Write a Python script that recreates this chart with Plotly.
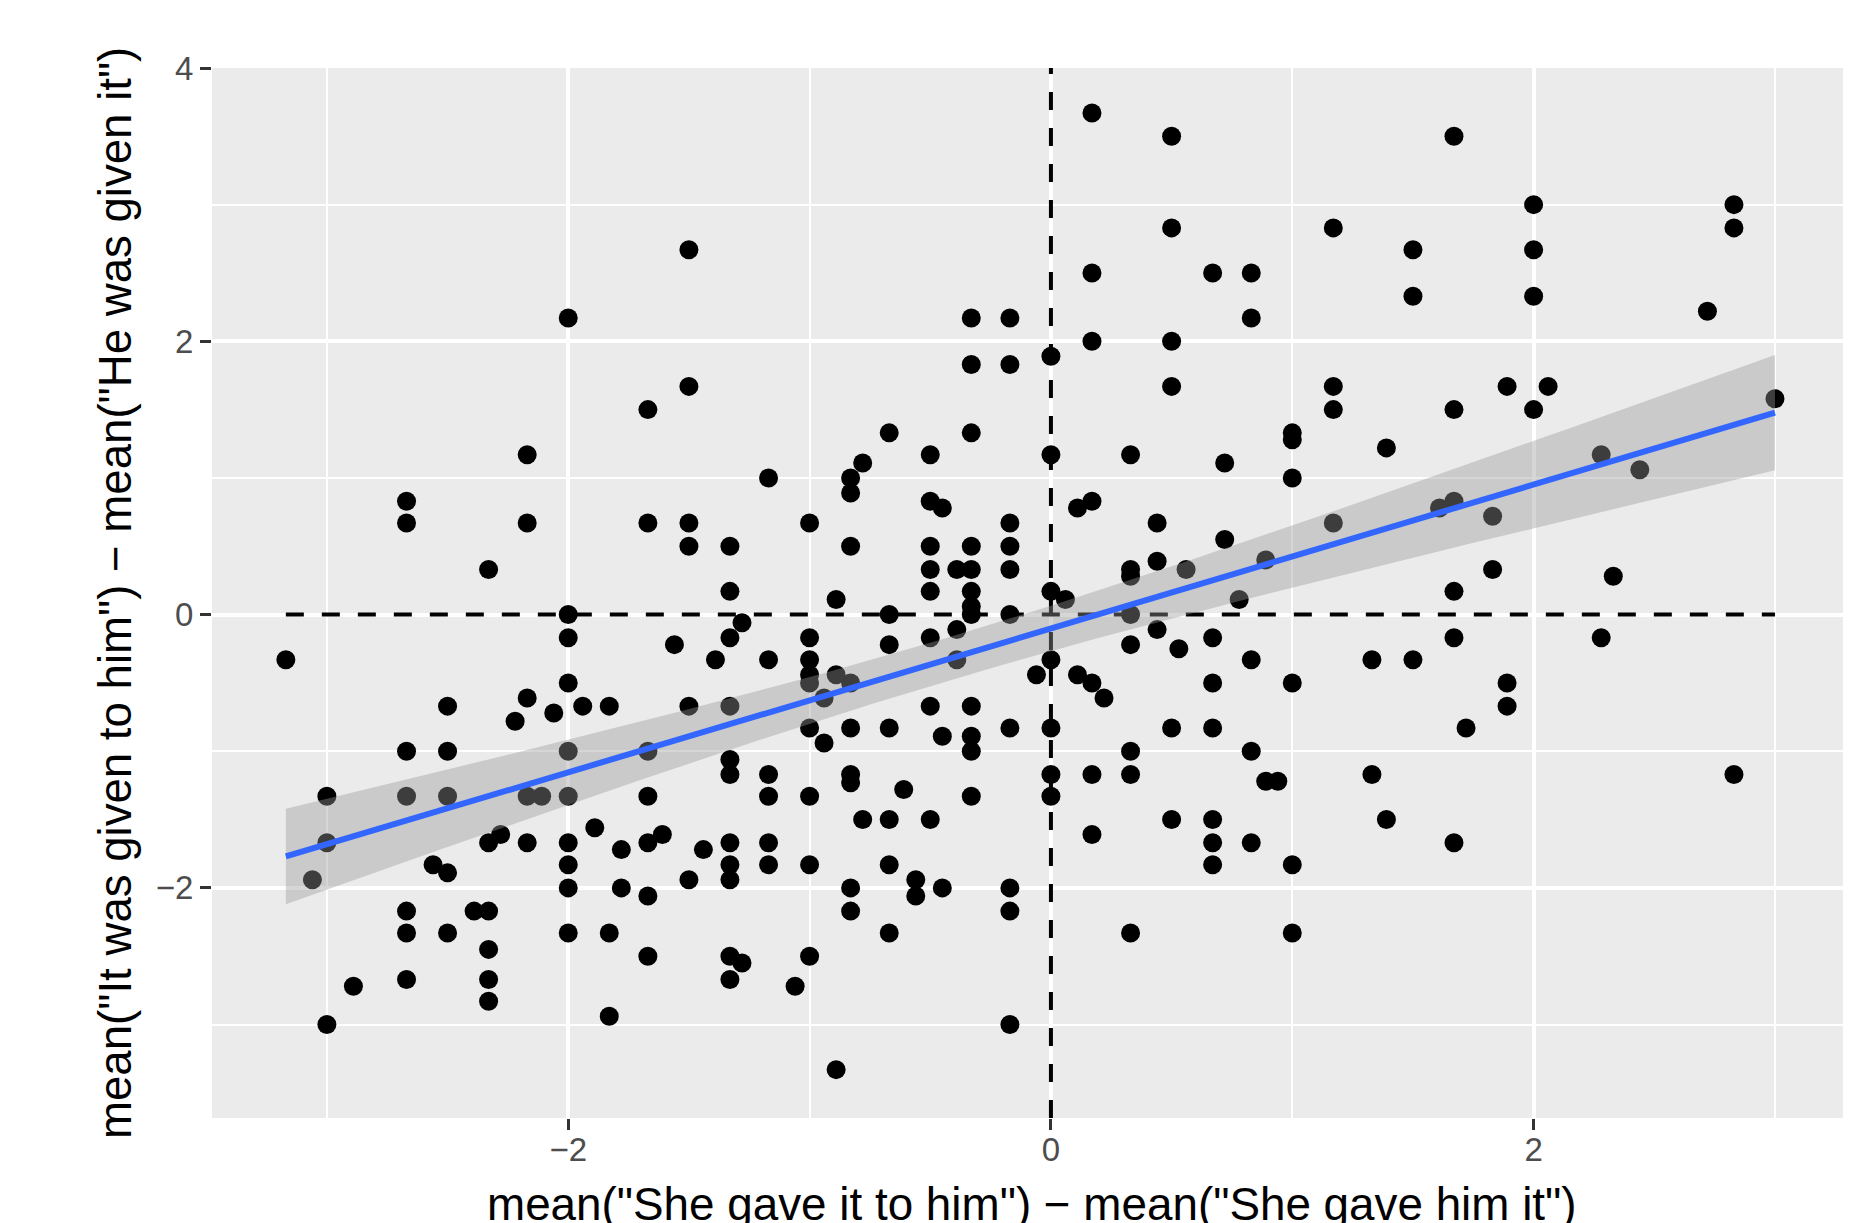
import numpy as np
import plotly.graph_objects as go

# ---- data ----
x_vals = [
    -1.5, -2, -1.5, -1.67,
    0.17, 0.5, 0.5, 0.17, 0.67, 0.83, -0.33, -0.17, 0.83, 0.17, 0.5, 0, -0.33, -0.17, 0.5,
    1.67, 2, 2.83, 1.17, 2.83, 1.5, 2, 1.5, 2, 2.72, 1.17, 1.17, 1.67, 1.89, 2.06, 2, 3,
    -2.17, -2.67, -2.67, -2.17, -2.33, -1.67, -1.5, -1.5, -1.33, -1.33, -2, -1.28, -2, -1.56, -1.33,
    -3.17, -1.39, -2, -2.17, -2.5, -2.06, -2.22, -1.94, -1.83, -1.5, -1.33, -2.67, -2.5, -2, -1.67,
    -1.33, -1.33,
    -0.67, -0.33, 1, 1, -0.5, 0, 0.33, -0.78, 0.72, -1.17, -0.83, 1, -0.83, -0.5, -0.45, 0.17, 0.11,
    -1, -0.17, 0.44, -0.83, -0.5, -0.33, -0.17, 0.72, -0.5, -0.39, -0.33, -0.17, 0.33, 0.33, 0.44,
    0.56, 0.89, -0.89, -0.5, -0.33, -0.33, -0.33, 0, 0.06, 0.78, -0.67, -0.17, 0.33, -0.39, 0.44,
    -1, -0.5, 0.67, -0.67, 0.33, 0.53, -1.17, -1, -0.39, 0, 0.83, -1, -0.89, -1, -0.83, -0.06, 0.11,
    0.17, 0.22, 0.67, 1, -0.94, -0.5, -0.33, -1, -0.83, -0.67, -0.45, -0.33, -0.33, -0.17, 0, 0.5,
    0.67, -0.94, 0.33, 0.83,
    1.39, 2.28, 2.44, 1.17, 1.61, 1.67, 1.83, 1.83, 1.67, 2.33, 1.67, 2.28, 1.33, 1.5, 1.89, 1.89, 1.72,
    -3, -2.67, -2.5, -2.17, -2.11, -2, -1.67, -1.89, -2.28, -2.33, -3, -2.17, -2, -1.78, -1.67, -1.61,
    -1.44, -1.33, -1.33, -1.33, -1.5, -3.06, -2.56, -2.5, -2, -2, -1.78, -1.67, -2.67, -2.39, -2.33,
    -2.67, -2.5, -2, -1.83, -2.33, -1.67, -1.33, -1.28, -1.33, -2.67, -2.33, -2.89, -2.33, -1.83, -3,
    -1.17, -0.83, -0.83, 0, 0.17, 0.33, 0.89, 0.94, -1.17, -1, -0.61, -0.33, 0, -0.78, -0.67, -0.5,
    0.5, 0.67, 0.17, -1.17, 0.67, 0.83, -1.17, -1, -0.67, 0.67, 1, -0.56, -0.56, -0.83, -0.45, -0.17,
    -0.83, -0.17, -0.67, 0.33, 1, -1, -1.06, -0.17, -0.89,
    1.33, 2.83, 1.39, 1.67,
]
y_vals = [
    2.67, 2.17, 1.67, 1.5,
    3.67, 3.5, 2.83, 2.5, 2.5, 2.5, 2.17, 2.17, 2.17, 2.0, 2.0, 1.89, 1.83, 1.83, 1.67,
    3.5, 3.0, 3.0, 2.83, 2.83, 2.67, 2.67, 2.33, 2.33, 2.22, 1.67, 1.5, 1.5, 1.67, 1.67, 1.5, 1.58,
    1.17, 0.83, 0.67, 0.67, 0.33, 0.67, 0.67, 0.5, 0.5, 0.17, 0, -0.06, -0.17, -0.22, -0.17,
    -0.33, -0.33, -0.5, -0.61, -0.67, -0.72, -0.78, -0.67, -0.67, -0.67, -0.67, -1.0, -1.0, -1.0, -1.0,
    -1.06, -1.17,
    1.33, 1.33, 1.33, 1.28, 1.17, 1.17, 1.17, 1.11, 1.11, 1.0, 1.0, 1.0, 0.89, 0.83, 0.78, 0.83, 0.78,
    0.67, 0.67, 0.67, 0.5, 0.5, 0.5, 0.5, 0.55, 0.33, 0.33, 0.33, 0.33, 0.33, 0.28, 0.39,
    0.33, 0.4, 0.11, 0.17, 0.17, 0.06, 0.0, 0.17, 0.11, 0.11, 0, 0, 0, -0.11, -0.11,
    -0.17, -0.17, -0.17, -0.22, -0.22, -0.25, -0.33, -0.33, -0.33, -0.33, -0.33, -0.44, -0.44, -0.5, -0.5, -0.44, -0.44,
    -0.5, -0.61, -0.5, -0.5, -0.61, -0.67, -0.67, -0.83, -0.83, -0.83, -0.89, -0.89, -1.0, -0.83, -0.83, -0.83,
    -0.83, -0.94, -1.0, -1.0,
    1.22, 1.17, 1.06, 0.67, 0.78, 0.83, 0.72, 0.33, 0.17, 0.28, -0.17, -0.17, -0.33, -0.33, -0.5, -0.67, -0.83,
    -1.33, -1.33, -1.33, -1.33, -1.33, -1.33, -1.33, -1.56, -1.61, -1.67, -1.67, -1.67, -1.67, -1.72, -1.67, -1.61,
    -1.72, -1.67, -1.83, -1.94, -1.94, -1.94, -1.83, -1.89, -1.83, -2.0, -2.0, -2.06, -2.17, -2.17, -2.17,
    -2.33, -2.33, -2.33, -2.33, -2.45, -2.5, -2.5, -2.55, -2.67, -2.67, -2.67, -2.72, -2.83, -2.94, -3.0,
    -1.17, -1.17, -1.23, -1.17, -1.17, -1.17, -1.22, -1.22, -1.33, -1.33, -1.28, -1.33, -1.33, -1.5, -1.5, -1.5,
    -1.5, -1.5, -1.61, -1.67, -1.67, -1.67, -1.83, -1.83, -1.83, -1.83, -1.83, -1.94, -2.06, -2.0, -2.0, -2.0,
    -2.17, -2.17, -2.33, -2.33, -2.33, -2.5, -2.72, -3.0, -3.33,
    -1.17, -1.17, -1.5, -1.67,
]
x_ticks = [-2, 0, 2]
y_ticks = [-2, 0, 2, 4]
x_title = 'mean("She gave it to him") − mean("She gave him it")'
y_title = 'mean("It was given to him") − mean("He was given it")'

x_range = [-3.476, 3.315]
y_range = [-3.684, 4.0]

# ---- linear fit with 95% confidence band (like geom_smooth(method="lm")) ----
xa = np.array(x_vals, dtype=float)
ya = np.array(y_vals, dtype=float)
n = len(xa)
b1, b0 = np.polyfit(xa, ya, 1)
resid = ya - (b0 + b1 * xa)
s = np.sqrt(np.sum(resid ** 2) / (n - 2))
sxx = np.sum((xa - xa.mean()) ** 2)
xg = np.linspace(xa.min(), xa.max(), 80)
yg = b0 + b1 * xg
se = s * np.sqrt(1.0 / n + (xg - xa.mean()) ** 2 / sxx)
tq = 1.969
lo = yg - tq * se
hi = yg + tq * se

FONT = "Liberation Sans, Arial, Helvetica, sans-serif"

fig = go.Figure()
# dashed reference lines
fig.add_trace(go.Scatter(x=[xa.min(), xa.max()], y=[0, 0], mode="lines",
                         line=dict(color="black", width=4, dash="18px,18px"),
                         hoverinfo="skip", showlegend=False))
fig.add_trace(go.Scatter(x=[0, 0], y=y_range, mode="lines",
                         line=dict(color="black", width=4, dash="18px,18px"),
                         hoverinfo="skip", showlegend=False))
# points
fig.add_trace(go.Scatter(x=x_vals, y=y_vals, mode="markers",
                         marker=dict(color="black", size=19, line=dict(width=0)),
                         showlegend=False))
# ribbon
fig.add_trace(go.Scatter(x=np.concatenate([xg, xg[::-1]]), y=np.concatenate([hi, lo[::-1]]),
                         fill="toself", fillcolor="rgba(153,153,153,0.4)",
                         line=dict(width=0), mode="lines", hoverinfo="skip", showlegend=False))
# fit line
fig.add_trace(go.Scatter(x=xg, y=yg, mode="lines", line=dict(color="#3366FF", width=6),
                         showlegend=False))

axis_common = dict(
    showline=False, zeroline=False, showgrid=True, gridcolor="white", gridwidth=4,
    ticks="outside", ticklen=11, tickwidth=3, tickcolor="#333333",
    tickfont=dict(family=FONT, size=33, color="#4D4D4D"),
    minor=dict(showgrid=True, gridcolor="white", gridwidth=2, dtick=1, ticks=""),
)
fig.update_xaxes(range=x_range, tickvals=x_ticks, tick0=0, dtick=2, **axis_common)
fig.update_yaxes(range=y_range, tickvals=y_ticks, tick0=0, dtick=2, **axis_common)
fig.update_xaxes(minor=dict(tick0=1, dtick=2), ticklabelstandoff=-9)
fig.update_yaxes(minor=dict(tick0=1, dtick=2))

fig.update_layout(
    width=1851, height=1223,
    margin=dict(l=204, r=8, t=60, b=113, autoexpand=False),
    paper_bgcolor="white", plot_bgcolor="#EBEBEB",
    font=dict(family=FONT),
    annotations=[
        dict(text=x_title, xref="paper", yref="paper", x=0.5, y=-0.082, xanchor="center",
             yanchor="middle", showarrow=False, font=dict(family=FONT, size=45.8, color="black")),
        dict(text=y_title, xref="paper", yref="paper", x=-0.0592, y=0.5, xanchor="center",
             yanchor="middle", textangle=-90, showarrow=False,
             font=dict(family=FONT, size=45.6, color="black")),
    ],
)

fig.write_html("out.html")
